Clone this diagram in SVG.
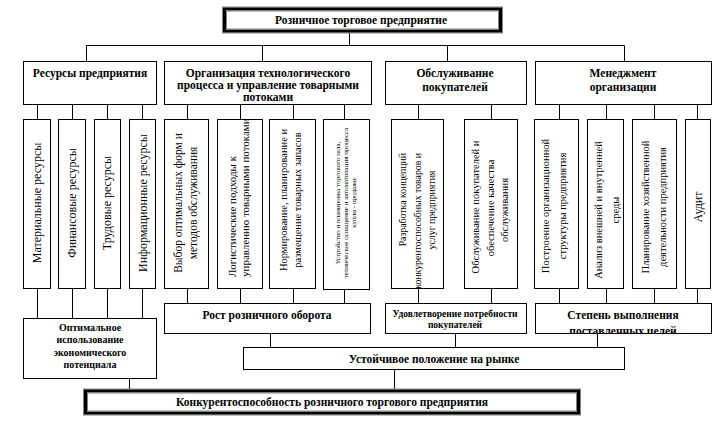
<svg xmlns="http://www.w3.org/2000/svg" width="725" height="431" viewBox="0 0 725 431">
<defs>
<style>
.bx{fill:#fff;stroke:#000;stroke-width:1}
.ln{fill:none;stroke:#000;stroke-width:1}
.g{fill:none;stroke:#808080;stroke-width:1}
.k{fill:none;stroke:#000;stroke-width:3}
text{font-family:"Liberation Serif","Times New Roman",serif;fill:#000;text-anchor:middle}
.b{font-weight:bold}
.v{dominant-baseline:central}
.s{text-anchor:start}
.e{text-anchor:end}
</style>
<clipPath id="cs"><rect x="535" y="303" width="176" height="30"/></clipPath>
</defs>
<g id="connectors">
<path class="ln" d="M349.5 33V45.5M86.5 45.5H624.5M86.5 45.5V61M262.5 45.5V61M447.5 45.5V61M624.5 45.5V61"/>
<path class="ln" d="M37.5 104V119M72.5 104V119M107.5 104V119M142.5 104V119M187.5 104V119M240.5 104V119M293.5 104V119M344.5 104V119M418.5 104V119M491.5 104V119M559.5 104V119M606.5 104V119M654.5 104V119M697.5 104V119"/>
<path class="ln" d="M37.5 288V318M72.5 288V318M107.5 288V318M142.5 288V318M187.5 288V303M240.5 288V303M293.5 288V303M344.5 288V303M418.5 288V303M491.5 288V303M559.5 288V303M606.5 288V303M654.5 288V303M697.5 288V303"/>
<path class="ln" d="M270.5 333V347M455.5 333V347M597.5 333V347M129.5 378V389M394.5 369V389"/>
</g>
<g id="n-top">
<rect class="g" x="222.5" y="7" width="280" height="26"/>
<rect class="k" x="224.5" y="9" width="276" height="22"/>
<rect class="g" x="226.5" y="11" width="272" height="18"/>
<text class="b" x="361" y="24" font-size="11.5">Розничное торговое предприятие</text>
</g>
<g id="n-res">
<rect class="bx" x="23.5" y="61.5" width="133" height="43"/>
<text class="b" x="90" y="77" font-size="11.5">Ресурсы предприятия</text>
</g>
<g id="n-org">
<rect class="bx" x="164.5" y="61.5" width="207" height="43"/>
<text class="b" x="268" y="77" font-size="11.5">Организация технологического</text>
<text class="b" x="268" y="89" font-size="11.5">процесса и управление товарными</text>
<text class="b" x="268" y="101" font-size="11.5">потоками</text>
</g>
<g id="n-obs">
<rect class="bx" x="385.5" y="61.5" width="141" height="43"/>
<text class="b" x="455" y="77" font-size="11.5">Обслуживание</text>
<text class="b" x="455" y="91" font-size="11.5">покупателей</text>
</g>
<g id="n-men">
<rect class="bx" x="535.5" y="61.5" width="176" height="43"/>
<text class="b" x="623" y="77" font-size="11.5">Менеджмент</text>
<text class="b" x="623" y="91" font-size="11.5">организации</text>
</g>
<g id="n-mat">
<rect class="bx" x="23.5" y="119.5" width="27" height="169"/>
<text class="v" transform="translate(37,203) rotate(-90)" font-size="12">Материальные ресурсы</text>
</g>
<g id="n-fin">
<rect class="bx" x="58.5" y="119.5" width="27" height="169"/>
<text class="v" transform="translate(72,203) rotate(-90)" font-size="12">Финансовые ресурсы</text>
</g>
<g id="n-trud">
<rect class="bx" x="94.5" y="119.5" width="26" height="169"/>
<text class="v" transform="translate(107,203) rotate(-90)" font-size="12">Трудовые ресурсы</text>
</g>
<g id="n-inf">
<rect class="bx" x="129.5" y="119.5" width="26" height="169"/>
<text class="v" transform="translate(143,203) rotate(-90)" font-size="12">Информационные ресурсы</text>
</g>
<g id="n-vyb">
<rect class="bx" x="164.5" y="119.5" width="44" height="169"/>
<text class="v" transform="translate(178,203) rotate(-90)" font-size="11.5">Выбор оптимальных форм и</text>
<text class="v" transform="translate(193,203) rotate(-90)" font-size="11.5">методов обслуживания</text>
</g>
<g id="n-log">
<rect class="bx" x="217.5" y="119.5" width="45" height="169"/>
<text class="v s" transform="translate(232,277) rotate(-90)" font-size="11">Логистические подходы  к</text>
<text class="v s" transform="translate(245,277) rotate(-90)" font-size="11">управлению товарными потоками</text>
</g>
<g id="n-norm">
<rect class="bx" x="269.5" y="119.5" width="46" height="169"/>
<text class="v" transform="translate(283,200) rotate(-90)" font-size="10.5">Нормирование, планирование и</text>
<text class="v" transform="translate(297,200) rotate(-90)" font-size="10.5">размещение товарных запасов</text>
</g>
<g id="n-ustr">
<rect class="bx" x="323.5" y="119.5" width="46" height="170"/>
<text class="v" transform="translate(338,203) rotate(-90)" font-size="7">Устройство и планировка торгового зала,</text>
<text class="v" transform="translate(346,203) rotate(-90)" font-size="7">техническое оснащение и автоматизация процесса</text>
<text class="v" transform="translate(354,203) rotate(-90)" font-size="7">купли - продажи</text>
</g>
<g id="n-razr">
<rect class="bx" x="391.5" y="119.5" width="52" height="169"/>
<text class="v e" transform="translate(402,153) rotate(-90)" font-size="9.8">Разработка  концепций</text>
<text class="v e" transform="translate(417,153) rotate(-90)" font-size="9.8">конкурентоспособных товаров и</text>
<text class="v" transform="translate(431,210) rotate(-90)" font-size="9.8">услуг предприятия</text>
</g>
<g id="n-obsl">
<rect class="bx" x="464.5" y="119.5" width="53" height="169"/>
<text class="v" transform="translate(475,207) rotate(-90)" font-size="10.5">Обслуживание покупателей и</text>
<text class="v" transform="translate(490,208) rotate(-90)" font-size="10.5">обеспечение качества</text>
<text class="v" transform="translate(504,210) rotate(-90)" font-size="10.5">обслуживания</text>
</g>
<g id="n-post">
<rect class="bx" x="534.5" y="119.5" width="44" height="169"/>
<text class="v" transform="translate(545,206) rotate(-90)" font-size="10.5">Построение организационной</text>
<text class="v" transform="translate(562,206) rotate(-90)" font-size="10.5">структуры предприятия</text>
</g>
<g id="n-anal">
<rect class="bx" x="587.5" y="119.5" width="36" height="169"/>
<text class="v" transform="translate(598,210) rotate(-90)" font-size="10.5">Анализ внешней и внутренней</text>
<text class="v" transform="translate(615,210) rotate(-90)" font-size="10.5">среды</text>
</g>
<g id="n-plan">
<rect class="bx" x="632.5" y="119.5" width="44" height="169"/>
<text class="v" transform="translate(645,207) rotate(-90)" font-size="10.5">Планирование хозяйственной</text>
<text class="v" transform="translate(662,207) rotate(-90)" font-size="10.5">деятельности предприятия</text>
</g>
<g id="n-aud">
<rect class="bx" x="685.5" y="119.5" width="25" height="169"/>
<text class="v" transform="translate(698,207) rotate(-90)" font-size="12">Аудит</text>
</g>
<g id="n-opt">
<rect class="bx" x="23.5" y="318.5" width="133" height="60"/>
<text class="b" x="90" y="331" font-size="10">Оптимальное</text>
<text class="b" x="90" y="343" font-size="10">использование</text>
<text class="b" x="90" y="356" font-size="10">экономического</text>
<text class="b" x="90" y="368" font-size="10">потенциала</text>
</g>
<g id="n-rost">
<rect class="bx" x="164.5" y="303.5" width="206" height="30"/>
<text class="b" x="267" y="319" font-size="11.5">Рост розничного оборота</text>
</g>
<g id="n-udov">
<rect class="bx" x="385.5" y="303.5" width="141" height="30"/>
<text class="b" x="455" y="317" font-size="9.5">Удовлетворение потребности</text>
<text class="b" x="455" y="328" font-size="9.5">покупателей</text>
</g>
<g id="n-step">
<rect class="bx" x="535.5" y="303.5" width="176" height="30"/>
<text class="b" x="623" y="319" font-size="11.5">Степень выполнения</text>
<text class="b" x="623" y="335" font-size="11.5" clip-path="url(#cs)">поставленных целей</text>
</g>
<g id="n-ust">
<rect class="bx" x="243.5" y="347.5" width="381" height="22"/>
<text class="b" x="434" y="363" font-size="11.5">Устойчивое положение на рынке</text>
</g>
<g id="n-konk">
<rect class="g" x="83.5" y="389" width="497" height="26"/>
<rect class="k" x="85.5" y="391" width="493" height="22"/>
<rect class="g" x="87.5" y="393" width="489" height="18"/>
<text class="b" x="332" y="406" font-size="11.5">Конкурентоспособность розничного торгового предприятия</text>
</g>
</svg>
